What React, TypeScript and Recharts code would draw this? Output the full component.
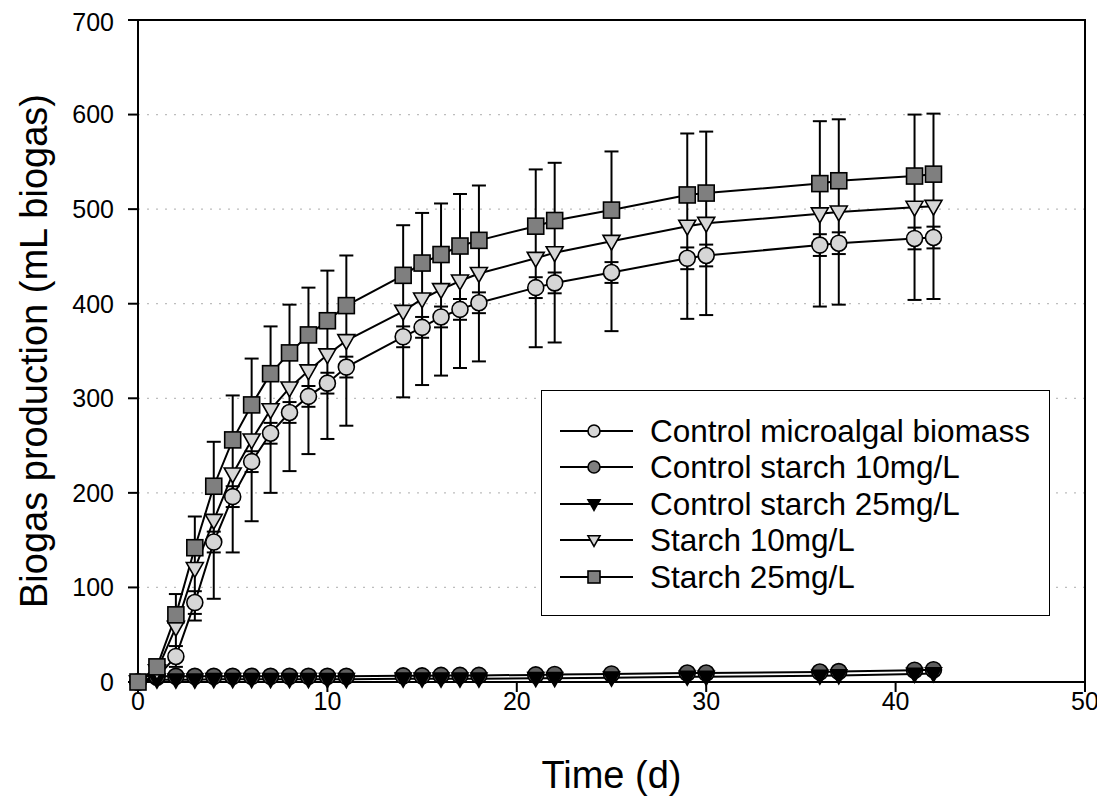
import React from 'react';
import { LineChart, Line, XAxis, YAxis, CartesianGrid, ErrorBar, ReferenceArea, Legend } from 'recharts';

const days = [0, 1, 2, 3, 4, 5, 6, 7, 8, 9, 10, 11, 14, 15, 16, 17, 18, 21, 22, 25, 29, 30, 36, 37, 41, 42];
const controlAlgae = [0, 5, 27, 84, 148, 196, 233, 263, 285, 302, 316, 333, 365, 375, 386, 394, 401, 417, 422, 433, 448, 451, 462, 464, 469, 470];
const controlAlgaeErr = [0, 2, 11, 12, 11, 11, 11, 11, 11, 11, 11, 11, 11, 11, 11, 11, 11, 11, 11, 11, 11.5, 11.5, 11.5, 11.5, 11.5, 11.5];
const controlStarch10 = [0, 6, 6, 6, 6, 6, 6, 6, 6, 6, 6, 6, 6.5, 6.5, 7, 7, 7, 7.5, 8, 8.5, 9.5, 9.5, 10.5, 11, 12.5, 13];
const controlStarch25 = [0, 2.5, 2.5, 2.5, 3, 3, 3, 3, 3, 3, 3, 3, 3.5, 3.5, 3.5, 3.5, 3.5, 4, 4, 4.5, 5.5, 5.5, 6.5, 7, 8.5, 9];
const starch10 = [0, 12, 58, 120, 171, 220, 256, 288, 311, 329, 346, 361, 392, 405, 415, 424, 432, 448, 454, 466, 482, 485, 495, 497, 502, 503];
const starch10Err = [0, 5, 35, 55, 83, 83, 86, 88, 88, 88, 89, 90, 91, 91, 91, 92, 93, 94, 95, 95, 98, 97, 98, 98, 98, 98];
const starch25 = [0, 16, 71, 142, 207, 256, 293, 326, 348, 367, 382, 398, 430, 443, 452, 461, 467, 482, 488, 499, 515, 517, 527, 530, 535, 537];

const xTicks = [0, 10, 20, 30, 40, 50];
const yTicks = [0, 100, 200, 300, 400, 500, 600, 700];
const legendLabels = [
  'Control microalgal biomass',
  'Control starch 10mg/L',
  'Control starch 25mg/L',
  'Starch 10mg/L',
  'Starch 25mg/L',
];

const data = days.map((d, i) => ({
  day: d,
  ca: controlAlgae[i],
  caErr: controlAlgaeErr[i],
  cs10: controlStarch10[i],
  cs25: controlStarch25[i],
  s10: starch10[i],
  s10Err: starch10Err[i],
  s25: starch25[i],
}));

const FONT = '"Liberation Sans", Arial, Helvetica, sans-serif';
const LIGHT = '#d6d6d6';
const MID = '#7f7f7f';
const DARKC = '#5e5e5e';

type Shape = 'circle' | 'triDown' | 'square';

function markerEl(shape: Shape, cx: number, cy: number, size: number, fill: string, key?: string) {
  if (shape === 'circle') {
    return <circle key={key} cx={cx} cy={cy} r={size / 2} fill={fill} stroke="#000" strokeWidth={1.6} />;
  }
  if (shape === 'square') {
    const h = size / 2;
    return <rect key={key} x={cx - h} y={cy - h} width={size} height={size} fill={fill} stroke="#000" strokeWidth={1.6} />;
  }
  const h = size / 2;
  const pts = `${cx - h},${cy - h * 0.7} ${cx + h},${cy - h * 0.7} ${cx},${cy + h * 1.05}`;
  return <polygon key={key} points={pts} fill={fill} stroke="#000" strokeWidth={1.6} strokeLinejoin="miter" />;
}

const makeDot = (shape: Shape, size: number, fill: string) => (props: any) => {
  const { cx, cy, index } = props;
  if (cx == null || cy == null) return <g key={`e${index}`} />;
  return markerEl(shape, cx, cy, size, fill, `${shape}${fill}${index}`);
};

const legendMarkers: { shape: Shape; fill: string }[] = [
  { shape: 'circle', fill: LIGHT },
  { shape: 'circle', fill: MID },
  { shape: 'triDown', fill: '#000' },
  { shape: 'triDown', fill: LIGHT },
  { shape: 'square', fill: MID },
];
const legendRowCenters = [40, 76, 113, 149, 186];

const renderLegend = () => (
  <div
    style={{
      width: 509,
      height: 226,
      border: '1.5px solid #000',
      background: '#fff',
      position: 'relative',
      boxSizing: 'border-box',
      fontFamily: FONT,
    }}
  >
    {legendLabels.map((label, i) => (
      <div key={label} style={{ position: 'absolute', left: 0, top: legendRowCenters[i] - 20, height: 40, width: 505 }}>
        <svg width={100} height={40} style={{ position: 'absolute', left: 0, top: 0 }}>
          <line x1={18} x2={91} y1={20} y2={20} stroke="#000" strokeWidth={2} />
          {markerEl(legendMarkers[i].shape, 52, 20, 12, legendMarkers[i].fill)}
        </svg>
        <span
          style={{
            position: 'absolute',
            left: 108,
            top: 0,
            fontSize: 31.5,
            lineHeight: '40px',
            whiteSpace: 'nowrap',
            color: '#000',
          }}
        >
          {label}
        </span>
      </div>
    ))}
  </div>
);

export default function App() {
  const tickStyle = { fontSize: 25, fill: '#000', fontFamily: FONT };
  return (
    <div style={{ width: 1097, height: 793, background: '#fff' }}>
      <LineChart
        width={1097}
        height={793}
        data={data}
        margin={{ top: 12, right: 20, left: 0, bottom: 59 }}
      >
        <CartesianGrid vertical={false} stroke="#bdbdbd" strokeDasharray="2 7" strokeWidth={1.2} />
        <XAxis
          dataKey="day"
          type="number"
          domain={[0, 50]}
          ticks={xTicks}
          height={60}
          tickSize={10}
          tickMargin={0}
          tick={tickStyle}
          axisLine={{ stroke: '#000', strokeWidth: 2 }}
          tickLine={{ stroke: '#000', strokeWidth: 2 }}
          label={{ value: 'Time (d)', position: 'bottom', offset: 19, style: { fontSize: 38, fill: '#000', fontFamily: FONT } }}
        />
        <YAxis
          type="number"
          domain={[0, 700]}
          ticks={yTicks}
          width={130}
          tickSize={10}
          tickMargin={14}
          tick={tickStyle}
          axisLine={{ stroke: '#000', strokeWidth: 2 }}
          tickLine={{ stroke: '#000', strokeWidth: 2 }}
          label={{
            value: 'Biogas production (mL biogas)',
            angle: -90,
            position: 'insideLeft',
            offset: 26,
            style: { fontSize: 38, fill: '#000', fontFamily: FONT, textAnchor: 'middle' },
          }}
        />
        <ReferenceArea x1={0} x2={50} y1={0} y2={700} fill="none" stroke="#000" strokeWidth={2} ifOverflow="visible" />
        <Line
          dataKey="s10"
          stroke="none"
          dot={false}
          activeDot={false}
          legendType="none"
          isAnimationActive={false}
        >
          <ErrorBar dataKey="s10Err" direction="y" width={7} stroke="#000" strokeWidth={2} />
        </Line>
        <Line
          dataKey="ca"
          stroke="#000"
          strokeWidth={2}
          dot={makeDot('circle', 16, LIGHT)}
          activeDot={false}
          isAnimationActive={false}
        >
          <ErrorBar dataKey="caErr" direction="y" width={7} stroke="#000" strokeWidth={2} />
        </Line>
        <Line
          dataKey="cs10"
          stroke="#000"
          strokeWidth={2}
          dot={makeDot('circle', 16, DARKC)}
          activeDot={false}
          isAnimationActive={false}
        />
        <Line
          dataKey="cs25"
          stroke="#000"
          strokeWidth={2}
          dot={makeDot('triDown', 16, '#000')}
          activeDot={false}
          isAnimationActive={false}
        />
        <Line
          dataKey="s10"
          stroke="#000"
          strokeWidth={2}
          dot={makeDot('triDown', 17, LIGHT)}
          activeDot={false}
          isAnimationActive={false}
        />
        <Line
          dataKey="s25"
          stroke="#000"
          strokeWidth={2}
          dot={makeDot('square', 16, MID)}
          activeDot={false}
          isAnimationActive={false}
        />
        <Legend
          layout="vertical"
          align="center"
          verticalAlign="middle"
          content={renderLegend}
          wrapperStyle={{ left: 533, top: 382, width: 509, height: 226 }}
        />
      </LineChart>
    </div>
  );
}
